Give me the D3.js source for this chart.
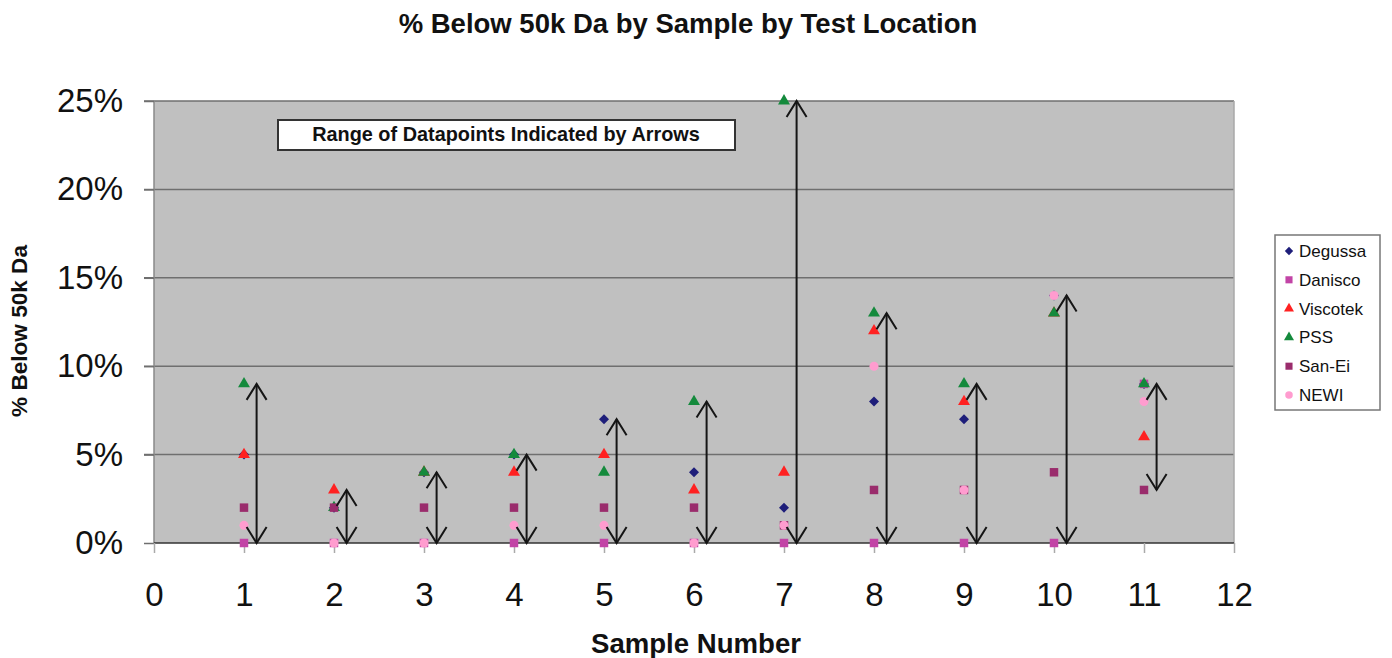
<!DOCTYPE html>
<html><head><meta charset="utf-8">
<script src="https://cdn.jsdelivr.net/npm/d3@7"></script>
<style>body{margin:0;background:#fff}svg{display:block;font-family:"Liberation Sans",Arial,sans-serif}</style>
</head><body><svg id="c" width="1392" height="658"></svg>
<script>
const samples = [1,2,3,4,5,6,7,8,9,10,11];
const seriesNames = ["Degussa","Danisco","Viscotek","PSS","San-Ei","NEWI"];
const degussa  = [5, 2, 4, 5, 7, 4, 2, 8, 7, 14, 9];
const danisco  = [0, 0, 0, 0, 0, 0, 0, 0, 0, 0, 9];
const viscotek = [5, 3, 4, 4, 5, 3, 4, 12, 8, 13, 6];
const pss      = [9, 2, 4, 5, 4, 8, 25, 13, 9, 13, 9];
const sanei    = [2, 2, 2, 2, 2, 2, 1, 3, 3, 4, 3];
const newi     = [1, 0, 0, 1, 1, 0, 1, 10, 3, 14, 8];
const xTicks = [0,1,2,3,4,5,6,7,8,9,10,11,12];
const yTicks = [0,5,10,15,20,25];
const titleText = "% Below 50k Da by Sample by Test Location";
const noteText = "Range of Datapoints Indicated by Arrows";

const seriesVals = [degussa, danisco, viscotek, pss, sanei, newi];
const colors = ["#1e1e7a","#c244a6","#ff2121","#148a3c","#9a2c6c","#ff9ccf"];
const shapes = ["diamond","square","triangle","triangle","square","circle"];

const svg = d3.select("#c");
const L = 154, R = 1234, T = 101, B = 543;
const x = d3.scaleLinear().domain([0,12]).range([L,R]);
const y = d3.scaleLinear().domain([0,25]).range([B,T]);

function fitText(sel, width){
  const w = sel.node().getComputedTextLength();
  const fs = parseFloat(sel.attr("font-size"));
  sel.attr("font-size", fs*width/w);
}

// plot background
svg.append("rect").attr("x",L).attr("y",T).attr("width",R-L).attr("height",B-T).attr("fill","#c0c0c0");
// gridlines
svg.append("g").selectAll("line").data(yTicks.filter(d=>d>0)).join("line")
  .attr("x1",L-10).attr("x2",R).attr("y1",d=>y(d)).attr("y2",d=>y(d))
  .attr("stroke","#6f6f6f").attr("stroke-width",1.5);
// plot border
svg.append("line").attr("x1",L).attr("x2",L).attr("y1",T).attr("y2",B).attr("stroke","#8a8a8a").attr("stroke-width",1.5);
svg.append("line").attr("x1",R).attr("x2",R).attr("y1",T).attr("y2",B).attr("stroke","#a8a8a8").attr("stroke-width",1.5);

// y axis
const yAxis = d3.axisLeft(y).tickValues(yTicks).tickFormat(d=>d+"%").tickSize(10).tickPadding(20);
const gy = svg.append("g").attr("transform",`translate(${L},0)`).call(yAxis);
gy.select(".domain").remove();
gy.selectAll(".tick line").attr("stroke","#6f6f6f").attr("stroke-width",1.5);
gy.selectAll("text").attr("font-size",33).attr("fill","#111").attr("font-family","Liberation Sans, Arial, sans-serif").attr("dx",-1);

// x axis
const xAxis = d3.axisBottom(x).tickValues(xTicks).tickFormat(d=>d).tickSize(10).tickPadding(30);
const gx = svg.append("g").attr("transform",`translate(0,${B})`).call(xAxis);
gx.select(".domain").attr("stroke","#333").attr("stroke-width",1.5).attr("d",`M${L},0H${R}`);
gx.selectAll(".tick line").attr("stroke","#aaa").attr("stroke-width",1.5);
gx.selectAll("text").attr("font-size",33).attr("fill","#111").attr("font-family","Liberation Sans, Arial, sans-serif");

// note box
svg.append("rect").attr("x",278).attr("y",120).attr("width",457).attr("height",30)
  .attr("fill","#fff").attr("stroke","#333").attr("stroke-width",2);
const nt = svg.append("text").attr("x",506).attr("y",141).attr("text-anchor","middle")
  .attr("font-weight","bold").attr("font-size",16).attr("fill","#111").text(noteText);
fitText(nt, 388);

// points
function makeSym(shape, k){
  if (shape==="diamond") return {d: d3.symbol().type(d3.symbolSquare).size(50*k)(), rot:45};
  if (shape==="square") return {d: d3.symbol().type(d3.symbolSquare).size(72*k)(), rot:0};
  if (shape==="triangle") return {d: d3.symbol().type(d3.symbolTriangle).size(62*k)(), rot:0};
  return {d: d3.symbol().type(d3.symbolCircle).size(64*k)(), rot:0};
}
seriesVals.forEach((vals,si)=>{
  const s = makeSym(shapes[si],1);
  svg.append("g").selectAll("path").data(vals.map((v,i)=>({s:samples[i],v})).filter(d=>d.v!=null)).join("path")
    .attr("d", s.d)
    .attr("transform",d=>`translate(${x(d.s)},${y(d.v)}) rotate(${s.rot})`)
    .attr("fill",colors[si]);
});

// arrows
const off = 0.14;
const ag = svg.append("g").attr("stroke","#151515").attr("stroke-width",2).attr("fill","none");
samples.forEach((s,i)=>{
  const vs = seriesVals.map(a=>a[i]).filter(v=>v!=null);
  const lo = d3.min(vs), hi = d3.max(vs);
  const ax = x(s+off), y1 = y(hi), y2 = y(lo);
  ag.append("line").attr("x1",ax).attr("x2",ax).attr("y1",y1).attr("y2",y2);
  ag.append("path").attr("d",`M${ax-10},${y1+16}L${ax},${y1}L${ax+10},${y1+16}`);
  ag.append("path").attr("d",`M${ax-10},${y2-16}L${ax},${y2}L${ax+10},${y2-16}`);
});

// title
const tt = svg.append("text").attr("x",688).attr("y",33).attr("text-anchor","middle")
  .attr("font-weight","bold").attr("font-size",22).attr("fill","#111").text(titleText);
fitText(tt, 579);

// axis titles
const xt = svg.append("text").attr("x",696).attr("y",653).attr("text-anchor","middle")
  .attr("font-weight","bold").attr("font-size",22).attr("fill","#111").text("Sample Number");
fitText(xt, 210);
const yt = svg.append("text").attr("transform","translate(27,331) rotate(-90)").attr("text-anchor","middle")
  .attr("font-weight","bold").attr("font-size",18).attr("fill","#111").text("% Below 50k Da");
fitText(yt, 172);

// legend
svg.append("rect").attr("x",1275).attr("y",235).attr("width",105).attr("height",175)
  .attr("fill","#fff").attr("stroke","#777").attr("stroke-width",1.5);
const lg = svg.append("g").selectAll("g").data(seriesNames).join("g")
  .attr("transform",(d,i)=>`translate(1289,${251+i*28.8})`);
lg.append("path").attr("d",(d,i)=>makeSym(shapes[i],0.7).d)
  .attr("transform",(d,i)=>`rotate(${makeSym(shapes[i],0.7).rot})`)
  .attr("fill",(d,i)=>colors[i]);
lg.append("text").attr("x",10).attr("y",6).attr("font-size",17).attr("fill","#111").text(d=>d);
</script></body></html>
